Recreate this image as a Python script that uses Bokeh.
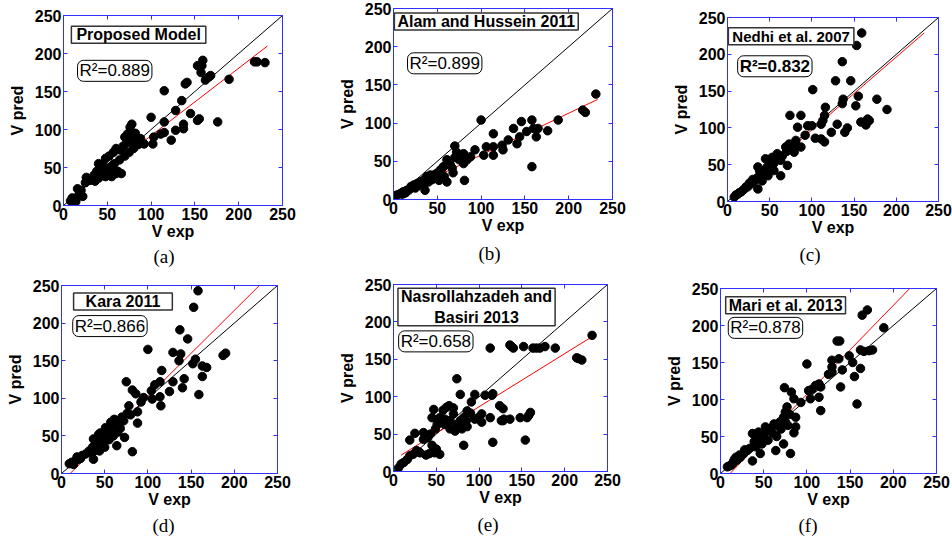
from bokeh.plotting import figure
from bokeh.layouts import column, row
from bokeh.models import Label, LinearAxis, Title, Range1d, FixedTicker
from bokeh.embed import file_html
from bokeh.resources import INLINE

# ---------------- data ----------------
ticks = [0, 50, 100, 150, 200, 250]
diag = [0, 250]

a_exp = [230,218,221,189,176,166,162,168,158,159,153,157,155,153,145,141,139,135,137,137,
         128,128,123,115,115,115,111,103,102,100,92,86,82,78,76,73,70,
         72,68,65,60,57,52,48,45,42,40,38,35,32,30,26,25,47,50,55,60,62,66,52,58,64,70,75,80,85,78,
         82,88,55,48,44,40,36,
         20,18,16,15,12,10,8,14,22,19]
a_pred = [188,189,189,166,110,169,165,171,184,191,184,175,114,112,121,162,160,138,107,101,
          125,99,86,151,110,96,94,90,81,116,81,86,90,107,103,94,90,
          82,78,73,75,70,65,62,55,50,55,45,40,35,33,37,30,45,42,38,42,45,42,48,55,60,65,70,75,80,85,
          95,88,52,38,40,36,32,
          20,15,22,10,8,10,6,5,12,18]

b_exp = [231,216,219,188,176,165,160,163,152,144,158,146,158,137,141,131,125,124,114,114,
         114,106,103,100,93,88,84,80,72,70,80,81,
         61,57,53,49,46,42,38,34,30,27,23,19,15,11,8,4,61,51,40,36,67,
         65,55,48,44,38,42,35,31,28,25,20,17,14,12,10,70,75,78,68,58,52]
b_pred = [138,117,114,104,90,93,93,82,89,82,104,102,43,93,73,78,65,71,86,69,
          58,69,58,104,65,56,52,47,62,70,60,25,
          52,43,38,34,32,29,27,25,23,21,19,14,12,10,8,6,23,30,23,12,41,
          45,40,28,26,30,32,20,22,18,15,17,12,9,8,7,55,52,58,35,30,25]

c_exp = [159,153,136,128,146,101,137,136,155,152,177,189,166,163,168,158,164,142,139,130,
         123,116,115,113,111,115,111,104,95,100,92,74,87,83,87,81,79,71,73,69,63,59,57,36,
         51,47,43,40,36,32,28,24,20,16,12,8,36,45,53,41,63,
         45,50,55,60,65,70,75,80,30,26,22,18,14,10,38,42,48,55]
c_pred = [229,212,190,164,164,152,139,133,143,130,139,125,112,108,110,108,104,100,94,105,
          94,128,117,110,105,81,85,86,103,103,90,117,117,101,74,83,67,49,78,74,35,65,60,17,
          51,47,42,38,33,28,24,20,17,13,10,6,47,58,60,28,56,
          40,45,52,58,62,68,72,77,30,25,20,15,12,9,42,36,35,42]

d_exp = [158,153,137,146,100,129,138,155,152,136,187,190,163,168,142,163,140,159,129,125,
         116,114,114,115,108,104,95,92,105,75,82,86,88,78,88,82,73,64,37,
         70,66,62,58,53,49,45,43,39,36,32,28,24,20,16,12,9,43,45,51,57,61,37,
         48,55,60,65,42,50,38,33,72,76,80,68,44,18,22,14]
d_pred = [243,221,191,179,165,161,159,152,146,150,157,160,143,141,126,129,114,105,122,109,
          137,122,102,90,118,110,101,95,99,122,111,106,82,90,67,29,48,37,19,
          75,66,64,62,57,52,48,44,39,35,30,26,24,19,17,15,13,52,54,61,68,72,46,
          40,45,50,55,38,35,30,28,70,80,78,60,30,22,20,12]

e_exp = [232,214,220,216,189,177,167,171,163,152,140,138,136,113,160,158,156,154,148,136,
         126,129,124,128,128,115,107,116,113,103,103,99,116,95,91,78,74,82,54,25,19,
         86,82,78,74,70,66,62,58,54,51,47,45,49,43,39,35,31,27,23,19,16,12,9,6,66,80,86,72,60,
         35,40,45,50,48,38,42,30,55,65,95,90,85,60,70]
e_pred = [182,152,149,151,165,167,165,165,165,167,165,167,169,165,79,75,72,42,72,70,
          68,70,88,84,68,102,102,104,72,77,66,72,39,103,93,103,124,35,23,51,42,
          81,72,68,63,77,68,86,82,72,63,83,72,57,50,46,43,25,28,23,21,16,12,10,5,57,57,60,54,63,
          52,45,35,30,25,22,24,26,65,88,70,78,68,70,85]

f_exp = [170,164,189,138,135,100,176,162,166,172,149,137,129,129,153,155,162,141,125,129,
         158,139,114,116,110,114,116,106,102,104,93,74,82,85,77,75,73,87,87,81,73,64,46,37,
         69,66,62,58,54,50,46,42,39,37,44,52,41,31,27,23,19,15,12,8,
         55,60,48,65,70,75,80,85,78,44,34,28,22,18,16,14,10]
f_pred = [221,214,197,179,179,148,167,167,165,166,159,155,153,144,150,131,142,140,134,137,
          94,117,121,117,119,103,85,114,112,101,96,116,110,101,90,83,76,76,63,27,40,31,27,17,
          70,65,67,61,58,52,49,47,43,54,56,63,36,31,27,22,18,16,11,9,
          45,55,40,50,60,70,80,55,65,50,34,32,25,22,19,13,10]

# red regression lines: end points
a_fit_x, a_fit_y = [10, 233], [12, 210]
b_fit_x, b_fit_y = [10, 233], [9, 131]
c_fit_x, c_fit_y = [10, 233], [8, 229]
d_fit_x, d_fit_y = [10, 229], [0, 250]
e_fit_x, e_fit_y = [9, 233], [22, 181]
f_fit_x, f_fit_y = [11, 219], [0, 250]

titles = ["Proposed Model", "Alam and Hussein 2011", "Nedhi et al. 2007",
          "Kara 2011", "Nasrollahzadeh and\nBasiri 2013", "Mari et al. 2013"]
r2_texts = ["R\u00b2=0.889", "R\u00b2=0.899", "R\u00b2=0.832",
            "R\u00b2=0.866", "R\u00b2=0.658", "R\u00b2=0.878"]
letters = ["(a)", "(b)", "(c)", "(d)", "(e)", "(f)"]

# ---------------- layout / style ----------------
BLUE = "#3030ff"
FONT = "Liberation Sans"

# padding tuples are (horizontal, vertical)
specs = [
    dict(w=317, h=273, l=63, r=35, t=15, b=68, tx=9,  ty=236, tal="left", tpad=(5, 0), tfs="16px",
         rx=16, ry=191, r2bold=False, loff=90, lst=3),
    dict(w=317, h=273, l=76, r=22, t=8,  b=74, tx=1,  ty=244, tal="left", tpad=(3, 0), tfs="16px",
         rx=16, ry=192, r2bold=False, loff=85, lst=9),
    dict(w=318, h=273, l=93, r=14, t=17, b=72, tx=1,  ty=236, tal="left", tpad=(4, 0), tfs="15px",
         rx=12, ry=198, r2bold=True, loff=72, lst=7),
    dict(w=317, h=273, l=61, r=40, t=12, b=73, tx=14, ty=240, tal="left", tpad=(12, 0), tfs="16px",
         rx=13, ry=210, r2bold=False, loff=91, lst=4),
    dict(w=317, h=273, l=76, r=27, t=11, b=75, tx=97, ty=245, tal="center", tpad=(3, 0), tfs="16px",
         rx=6,  ry=188, r2bold=False, loff=84, lst=6),
    dict(w=318, h=273, l=86, r=16, t=15, b=73, tx=6,  ty=239, tal="left", tpad=(3, 0), tfs="16px",
         rx=9,  ry=211, r2bold=False, loff=78, lst=4),
]

data = [(a_exp, a_pred, a_fit_x, a_fit_y), (b_exp, b_pred, b_fit_x, b_fit_y),
        (c_exp, c_pred, c_fit_x, c_fit_y), (d_exp, d_pred, d_fit_x, d_fit_y),
        (e_exp, e_pred, e_fit_x, e_fit_y), (f_exp, f_pred, f_fit_x, f_fit_y)]


def style_axis(ax, labels=True):
    ax.ticker = FixedTicker(ticks=ticks)
    ax.axis_line_color = BLUE
    ax.axis_line_width = 1
    ax.major_tick_line_color = BLUE
    ax.major_tick_in = 4
    ax.major_tick_out = 0
    ax.minor_tick_line_color = None
    if labels:
        ax.major_label_text_font = FONT
        ax.major_label_text_font_size = "16px"
        ax.major_label_text_font_style = "bold"
        ax.major_label_text_color = "black"
        ax.axis_label_text_font = FONT
        ax.axis_label_text_font_size = "16px"
        ax.axis_label_text_font_style = "bold"
        ax.axis_label_text_color = "black"
    else:
        ax.major_label_text_font_size = "0px"
        ax.major_label_text_color = None
        ax.major_label_standoff = 0
        ax.axis_label = None
        ax.axis_label_standoff = 0


def make_panel(i):
    s = specs[i]
    xs, ys, fx, fy = data[i]
    p = figure(width=s["w"], height=s["h"], x_range=Range1d(0, 250), y_range=Range1d(0, 250),
               output_backend="svg", toolbar_location=None, title=None,
               min_border_left=s["l"], min_border_right=s["r"],
               min_border_top=s["t"], min_border_bottom=s["b"],
               x_axis_label="V exp", y_axis_label="V pred")
    p.grid.visible = False
    p.outline_line_color = BLUE
    p.outline_line_width = 1
    p.background_fill_color = "white"
    p.border_fill_color = "white"
    for ax in p.xaxis:
        style_axis(ax)
        ax.major_label_standoff = 2
        ax.axis_label_standoff = 0
    for ax in p.yaxis:
        style_axis(ax)
        ax.major_label_standoff = 2
        ax.axis_label_standoff = 6
    top = LinearAxis()
    style_axis(top, labels=False)
    p.add_layout(top, "above")
    right = LinearAxis()
    style_axis(right, labels=False)
    p.add_layout(right, "right")

    p.line(diag, diag, line_color="black", line_width=1)
    p.line(fx, fy, line_color="red", line_width=1)
    p.scatter(xs, ys, size=8.5, fill_color="black", line_color="black")

    p.add_layout(Label(x=s["tx"], y=s["ty"], text=titles[i], text_font=FONT,
                       text_font_size=s["tfs"], text_font_style="bold", text_color="black",
                       text_align=s["tal"], text_baseline="top",
                       border_line_color="#333333", border_line_width=1.5,
                       background_fill_color="white", padding=s["tpad"]))
    p.add_layout(Label(x=s["rx"], y=s["ry"], text=r2_texts[i], text_font=FONT,
                       text_font_size="17px",
                       text_font_style="bold" if s["r2bold"] else "normal",
                       text_color="black", text_align="left", text_baseline="top",
                       border_line_color="black", border_line_width=1,
                       background_fill_color="white", padding=(2, 1), border_radius=6))
    p.add_layout(Title(text=letters[i], align="left", offset=s["loff"],
                       text_font="Liberation Serif", text_font_size="19px",
                       text_font_style="normal", text_color="black", standoff=s["lst"]), "below")
    return p


panels = [column(make_panel(i)) for i in range(6)]
layout = column(row(*panels[:3], spacing=0), row(*panels[3:], spacing=0), spacing=0)

open("out.html", "w").write(file_html(layout, INLINE))
